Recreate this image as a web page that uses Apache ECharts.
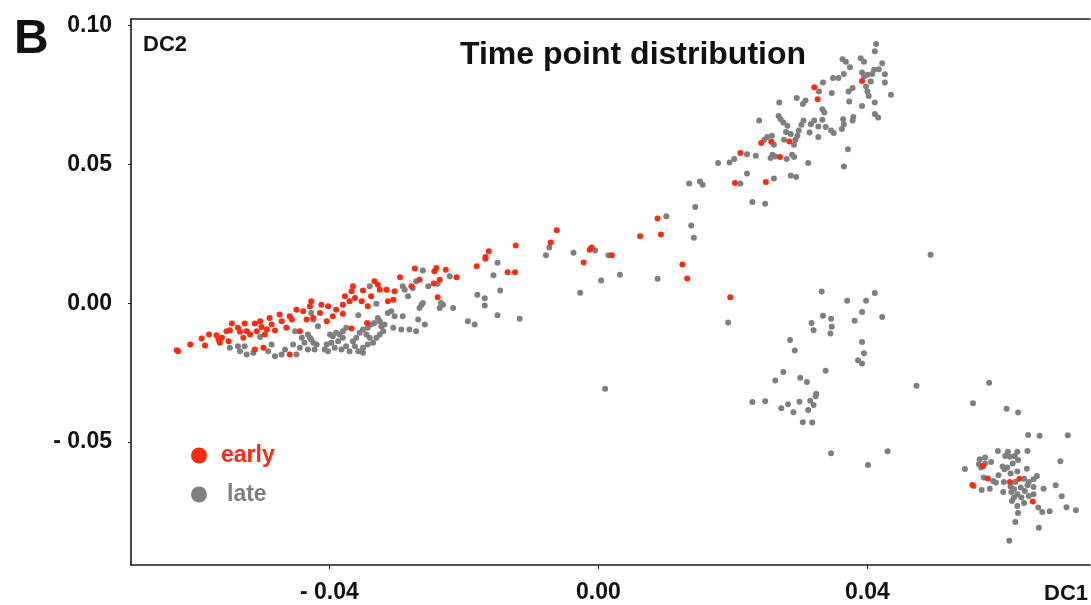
<!DOCTYPE html>
<html>
<head>
<meta charset="utf-8">
<title>Time point distribution</title>
<script src="https://cdn.jsdelivr.net/npm/echarts@6/dist/echarts.min.js"></script>
<style>
  html, body { margin: 0; padding: 0; background: #fff; }
  #chart { width: 1091px; height: 605px; }
</style>
</head>
<body>
<div id="chart"></div>
<script>
// tick positions and their labels
var xTicks = [-0.04, 0, 0.04];
var xTickLabels = ['- 0.04', '0.00', '0.04'];
var yTicks = [-0.05, 0, 0.05, 0.10];
var yTickLabels = ['- 0.05', '0.00', '0.05', '0.10'];

// visible window of the plot
var xRange = [-0.0695, 0.0731];
var yRange = [-0.0943, 0.1024];

// early time point cells [DC1, DC2]
var earlyPoints = [
  [-0.0627,-0.0169],[-0.0625,-0.0173],[-0.0607,-0.0149],[-0.0590,-0.0127],[-0.0585,-0.0152],
  [-0.0579,-0.0113],[-0.0568,-0.0115],[-0.0565,-0.0131],[-0.0563,-0.0142],[-0.0560,-0.0124],
  [-0.0553,-0.0101],[-0.0550,-0.0137],[-0.0545,-0.0073],[-0.0548,-0.0097],[-0.0536,-0.0088],
  [-0.0533,-0.0103],[-0.0528,-0.0124],[-0.0526,-0.0073],[-0.0523,-0.0101],[-0.0518,-0.0113],
  [-0.0511,-0.0073],[-0.0508,-0.0101],[-0.0503,-0.0065],[-0.0501,-0.0086],[-0.0496,-0.0113],
  [-0.0493,-0.0095],[-0.0498,-0.0160],[-0.0511,-0.0167],[-0.0489,-0.0053],[-0.0486,-0.0077],
  [-0.0481,-0.0098],[-0.0474,-0.0041],[-0.0471,-0.0065],[-0.0464,-0.0088],[-0.0459,-0.0047],
  [-0.0456,-0.0059],[-0.0449,-0.0023],[-0.0444,-0.0101],[-0.0439,-0.0029],[-0.0434,-0.0059],
  [-0.0429,-0.0011],[-0.0427,0.0007],[-0.0459,-0.0185],[-0.0424,-0.0053],[-0.0412,-0.0005],
  [-0.0414,-0.0035],[-0.0402,-0.0011],[-0.0404,-0.0065],[-0.0395,-0.0047],[-0.0390,-0.0023],
  [-0.0380,-0.0005],[-0.0380,-0.0038],[-0.0377,0.0025],[-0.0370,0.0007],[-0.0367,0.0043],
  [-0.0365,0.0061],[-0.0362,0.0019],[-0.0352,0.0007],[-0.0350,0.0046],[-0.0343,-0.0011],
  [-0.0338,0.0025],[-0.0333,0.0079],[-0.0328,0.0067],[-0.0325,0.0049],[-0.0315,0.0049],
  [-0.0313,0.0007],[-0.0305,0.0013],[-0.0303,0.0043],[-0.0295,0.0094],[-0.0278,0.0061],
  [-0.0273,0.0125],[-0.0266,0.0085],[-0.0244,0.0115],[-0.0241,0.0127],[-0.0236,0.0085],
  [-0.0245,0.0071],[-0.0227,0.0121],[-0.0211,0.0094],[-0.0239,0.0022],[-0.0367,-0.0091],
  [-0.0344,-0.0071],
  [-0.0181,0.0133],[-0.0168,0.0167],[-0.0168,0.0160],[-0.0163,0.0187],[-0.0135,0.0112],
  [-0.0124,0.0112],[-0.0123,0.0208],[-0.0071,0.0219],[-0.0062,0.0263],[-0.0022,0.0147],
  [-0.0013,0.0193],[-0.0010,0.0201],[0.0020,0.0173],[0.0062,0.0241],[0.0088,0.0305],
  [0.0093,0.0248],[0.0125,0.0140],[0.0132,0.0089],[0.0196,0.0022],
  [0.0321,0.0778],[0.0326,0.0735],[0.0392,0.0801],[0.0242,0.0577],[0.0257,0.0582],
  [0.0284,0.0583],[0.0211,0.0541],[0.0270,0.0527],[0.0203,0.0433],[0.0249,0.0437],
  [0.0572,-0.0586],[0.0579,-0.0631],[0.0556,-0.0655],[0.0612,-0.0644],[0.0626,-0.0632],
  [0.0646,-0.0714]
];

// late time point cells [DC1, DC2]
var latePoints = [
  // left arm
  [-0.0548,-0.0160],[-0.0536,-0.0155],[-0.0526,-0.0155],[-0.0533,-0.0173],[-0.0523,-0.0185],
  [-0.0513,-0.0178],[-0.0503,-0.0122],[-0.0491,-0.0173],[-0.0486,-0.0149],[-0.0481,-0.0191],
  [-0.0471,-0.0185],[-0.0466,-0.0167],[-0.0454,-0.0149],[-0.0449,-0.0185],[-0.0451,-0.0101],
  [-0.0441,-0.0124],[-0.0437,-0.0142],[-0.0432,-0.0113],[-0.0427,-0.0131],[-0.0427,-0.0035],
  [-0.0424,-0.0059],[-0.0444,-0.0160],[-0.0432,-0.0167],[-0.0429,-0.0124],[-0.0424,-0.0142],
  [-0.0419,-0.0149],[-0.0422,-0.0167],[-0.0417,-0.0083],[-0.0399,-0.0113],[-0.0395,-0.0119],
  [-0.0390,-0.0106],[-0.0385,-0.0113],[-0.0380,-0.0101],[-0.0375,-0.0088],[-0.0380,-0.0124],
  [-0.0387,-0.0137],[-0.0397,-0.0142],[-0.0404,-0.0149],[-0.0407,-0.0167],[-0.0402,-0.0173],
  [-0.0392,-0.0160],[-0.0382,-0.0167],[-0.0375,-0.0155],[-0.0365,-0.0137],[-0.0360,-0.0124],
  [-0.0355,-0.0106],[-0.0350,-0.0095],[-0.0343,-0.0088],[-0.0338,-0.0077],[-0.0333,-0.0071],
  [-0.0328,-0.0053],[-0.0325,-0.0065],[-0.0323,-0.0083],[-0.0320,-0.0101],[-0.0325,-0.0113],
  [-0.0330,-0.0124],[-0.0335,-0.0142],[-0.0343,-0.0149],[-0.0350,-0.0160],[-0.0357,-0.0173],
  [-0.0362,-0.0155],[-0.0370,-0.0173],[-0.0340,-0.0124],[-0.0345,-0.0113],[-0.0318,-0.0077],
  [-0.0313,-0.0035],[-0.0308,-0.0029],[-0.0303,-0.0047],[-0.0291,-0.0047],[-0.0305,-0.0088],
  [-0.0293,-0.0095],[-0.0281,-0.0095],[-0.0271,-0.0101],[-0.0268,-0.0059],[-0.0266,-0.0017],
  [-0.0263,-0.0005],[-0.0258,-0.0077],[-0.0357,-0.0043],[-0.0340,0.0061],[-0.0330,-0.0002],
  [-0.0288,0.0049],[-0.0283,0.0025],[-0.0276,0.0055],[-0.0271,0.0079],[-0.0261,0.0118],
  [-0.0253,0.0061],[-0.0239,0.0070],[-0.0234,0.0001],[-0.0236,-0.0017],[-0.0231,-0.0005],
  [-0.0216,-0.0017],[-0.0221,0.0097],[-0.0194,-0.0065],[-0.0261,0.0001],[-0.0291,0.0061],
  [-0.0350,-0.0178],[-0.0184,-0.0077],[-0.0180,0.0031],
  // middle
  [-0.0169,0.0018],[-0.0169,-0.0008],[-0.0156,0.0101],[-0.0150,0.0146],[-0.0146,0.0046],
  [-0.0150,-0.0043],[-0.0117,-0.0056],[-0.0078,0.0173],[-0.0073,0.0201],[-0.0037,0.0182],
  [-0.0027,0.0038],[-0.0005,0.0190],[0.0004,0.0082],[0.0015,0.0173],[0.0032,0.0103],
  [0.0088,0.0088],[0.0101,0.0313],[0.0138,0.0280],[0.0142,0.0236],[0.0144,0.0347],
  [0.0193,-0.0069],[0.0010,-0.0308],[0.0494,0.0175],
  // upper arm
  [0.0413,0.0934],[0.0411,0.0908],[0.0363,0.0879],[0.0368,0.0870],[0.0390,0.0883],
  [0.0395,0.0870],[0.0422,0.0865],[0.0374,0.0850],[0.0417,0.0843],[0.0410,0.0841],
  [0.0407,0.0826],[0.0426,0.0825],[0.0365,0.0826],[0.0392,0.0831],[0.0400,0.0823],
  [0.0395,0.0817],[0.0405,0.0799],[0.0349,0.0811],[0.0357,0.0811],[0.0334,0.0795],
  [0.0426,0.0795],[0.0398,0.0781],[0.0400,0.0763],[0.0378,0.0775],[0.0372,0.0763],
  [0.0347,0.0757],[0.0328,0.0763],[0.0402,0.0747],[0.0435,0.0751],[0.0295,0.0739],
  [0.0308,0.0730],[0.0304,0.0718],[0.0269,0.0723],[0.0373,0.0727],[0.0411,0.0723],
  [0.0392,0.0711],[0.0333,0.0699],[0.0336,0.0687],[0.0268,0.0675],[0.0271,0.0663],
  [0.0239,0.0658],[0.0275,0.0651],[0.0305,0.0658],[0.0321,0.0658],[0.0333,0.0661],
  [0.0364,0.0663],[0.0379,0.0671],[0.0378,0.0658],[0.0411,0.0682],[0.0416,0.0669],
  [0.0281,0.0639],[0.0302,0.0643],[0.0316,0.0645],[0.0327,0.0637],[0.0338,0.0635],
  [0.0365,0.0645],[0.0362,0.0628],[0.0298,0.0622],[0.0314,0.0615],[0.0346,0.0622],
  [0.0350,0.0613],[0.0279,0.0617],[0.0286,0.0610],[0.0296,0.0603],[0.0327,0.0599],
  [0.0251,0.0599],[0.0258,0.0603],[0.0247,0.0589],[0.0293,0.0589],[0.0291,0.0571],
  [0.0261,0.0571],[0.0276,0.0589],[0.0259,0.0535],[0.0256,0.0523],[0.0263,0.0529],
  [0.0280,0.0520],[0.0288,0.0535],[0.0291,0.0527],[0.0234,0.0531],[0.0221,0.0537],
  [0.0202,0.0520],[0.0195,0.0507],[0.0178,0.0505],[0.0312,0.0505],[0.0371,0.0555],
  [0.0365,0.0493],[0.0221,0.0467],[0.0261,0.0449],[0.0286,0.0460],[0.0294,0.0455],
  [0.0211,0.0431],[0.0135,0.0431],[0.0151,0.0439],[0.0155,0.0427],[0.0229,0.0365],
  [0.0248,0.0358],
  // lower middle group
  [0.0332,0.0042],[0.0411,0.0037],[0.0370,0.0009],[0.0398,0.0009],[0.0392,-0.0032],
  [0.0422,-0.0050],[0.0381,-0.0063],[0.0334,-0.0045],[0.0346,-0.0056],[0.0317,-0.0071],
  [0.0347,-0.0085],[0.0320,-0.0097],[0.0345,-0.0109],[0.0285,-0.0132],[0.0292,-0.0170],
  [0.0392,-0.0140],[0.0395,-0.0180],[0.0386,-0.0205],[0.0392,-0.0217],[0.0338,-0.0243],
  [0.0275,-0.0248],[0.0263,-0.0278],[0.0300,-0.0268],[0.0310,-0.0284],[0.0473,-0.0297],
  [0.0324,-0.0326],[0.0323,-0.0335],[0.0229,-0.0356],[0.0248,-0.0353],[0.0299,-0.0355],
  [0.0315,-0.0351],[0.0282,-0.0364],[0.0272,-0.0378],[0.0320,-0.0367],[0.0312,-0.0385],
  [0.0290,-0.0393],[0.0304,-0.0429],[0.0318,-0.0430],[0.0346,-0.0540],[0.0430,-0.0533],
  [0.0401,-0.0583],
  // lower right group
  [0.0581,-0.0286],[0.0557,-0.0360],[0.0607,-0.0380],[0.0624,-0.0394],[0.0639,-0.0475],
  [0.0656,-0.0477],[0.0698,-0.0476],[0.0611,-0.0856],[0.0655,-0.0809],[0.0620,-0.0788],
  [0.0624,-0.0756],[0.0671,-0.0749],[0.0660,-0.0752],[0.0545,-0.0597],
  [0.0594,-0.0532],[0.0609,-0.0535],[0.0623,-0.0535],[0.0638,-0.0532],[0.0619,-0.0550],
  [0.0612,-0.0553],[0.0605,-0.0550],[0.0567,-0.0562],[0.0575,-0.0556],[0.0584,-0.0572],
  [0.0575,-0.0577],[0.0624,-0.0565],[0.0616,-0.0577],[0.0569,-0.0592],[0.0601,-0.0588],
  [0.0604,-0.0598],[0.0608,-0.0592],[0.0637,-0.0596],[0.0623,-0.0606],[0.0613,-0.0613],
  [0.0595,-0.0620],[0.0652,-0.0622],[0.0647,-0.0634],[0.0633,-0.0632],[0.0640,-0.0644],
  [0.0620,-0.0644],[0.0587,-0.0640],[0.0591,-0.0646],[0.0603,-0.0644],[0.0573,-0.0628],
  [0.0582,-0.0668],[0.0570,-0.0673],[0.0558,-0.0658],[0.0613,-0.0660],[0.0618,-0.0670],
  [0.0628,-0.0664],[0.0638,-0.0656],[0.0647,-0.0662],[0.0662,-0.0668],[0.0602,-0.0680],
  [0.0614,-0.0680],[0.0623,-0.0688],[0.0634,-0.0676],[0.0640,-0.0694],[0.0647,-0.0688],
  [0.0629,-0.0700],[0.0618,-0.0700],[0.0615,-0.0712],[0.0633,-0.0720],[0.0623,-0.0730],
  [0.0654,-0.0736],[0.0566,-0.0580],[0.0689,-0.0695],[0.0696,-0.0735],[0.0710,-0.0746],
  [0.0680,-0.0656],[0.0687,-0.0569]
];

var chart = echarts.init(document.getElementById('chart'));
var font = 'Liberation Sans, Arial, sans-serif';
var lineCol = '#1a1a1a';
var redCol = '#ff2a0f';
var grayCol = '#7f7f7f';

function pickLabel(ticks, labels) {
  return function (v) {
    for (var i = 0; i < ticks.length; i++) {
      if (Math.abs(ticks[i] - v) < 1e-9) return labels[i];
    }
    return '';
  };
}

var option = {
  animation: false,
  backgroundColor: '#fff',
  title: {
    text: 'Time point distribution',
    left: 460,
    top: 39,
    padding: 0,
    textStyle: { fontFamily: font, fontSize: 32, fontWeight: 'bold', color: '#111' }
  },
  graphic: [{
    type: 'text',
    left: 14,
    top: 16,
    style: { text: 'B', fontFamily: font, fontSize: 48, fontWeight: 'bold', fill: '#111' }
  }],
  legend: {
    orient: 'vertical',
    left: 191,
    top: 444,
    padding: 0,
    itemWidth: 16,
    itemHeight: 16,
    itemGap: 16,
    icon: 'circle',
    selectedMode: false,
    textStyle: { fontFamily: font, fontSize: 23, fontWeight: 'bold', lineHeight: 22, padding: [0, 0, 0, 9] },
    data: [
      { name: 'early', itemStyle: { color: redCol, opacity: 1 }, textStyle: { color: redCol } },
      { name: 'late', itemStyle: { color: grayCol, opacity: 1 }, textStyle: { color: grayCol, padding: [0, 0, 0, 15] } }
    ]
  },
  grid: { left: 131, right: 0, top: 19, bottom: 39 },
  xAxis: [{
    type: 'value',
    min: xRange[0],
    max: xRange[1],
    name: 'DC1',
    nameLocation: 'end',
    nameGap: -46,
    nameTextStyle: { fontFamily: font, fontSize: 22, fontWeight: 'bold', color: '#111', verticalAlign: 'top', padding: [18, 0, 0, 0] },
    splitLine: { show: false },
    axisLine: { show: true, onZero: false, lineStyle: { color: lineCol, width: 1.6 } },
    axisTick: { show: true, length: 4, customValues: xTicks, lineStyle: { color: lineCol } },
    axisLabel: {
      customValues: xTicks,
      margin: 16,
      fontFamily: font, fontSize: 23, fontWeight: 'bold', color: '#111',
      formatter: pickLabel(xTicks, xTickLabels)
    }
  }, {
    type: 'value',
    position: 'top',
    min: xRange[0],
    max: xRange[1],
    splitLine: { show: false },
    axisLine: { show: true, onZero: false, lineStyle: { color: lineCol, width: 1.6 } },
    axisTick: { show: false },
    axisLabel: { show: false }
  }],
  yAxis: {
    type: 'value',
    min: yRange[0],
    max: yRange[1],
    name: 'DC2',
    nameLocation: 'end',
    nameGap: -37,
    nameTextStyle: { fontFamily: font, fontSize: 22, fontWeight: 'bold', color: '#111', align: 'left', verticalAlign: 'bottom', padding: [0, 0, 0, 12] },
    splitLine: { show: false },
    axisLine: { show: true, onZero: false, lineStyle: { color: lineCol, width: 1.6 } },
    axisTick: { show: true, length: 3, customValues: yTicks, lineStyle: { color: lineCol } },
    axisLabel: {
      customValues: yTicks,
      margin: 19,
      fontFamily: font, fontSize: 23, fontWeight: 'bold', color: '#111',
      formatter: pickLabel(yTicks, yTickLabels)
    }
  },
  series: [
    {
      name: 'late',
      type: 'scatter',
      data: latePoints,
      symbolSize: 6,
      itemStyle: { color: grayCol, opacity: 1 }
    },
    {
      name: 'early',
      type: 'scatter',
      data: earlyPoints,
      symbolSize: 6,
      itemStyle: { color: redCol, opacity: 1 }
    }
  ]
};

chart.setOption(option);
</script>
</body>
</html>
